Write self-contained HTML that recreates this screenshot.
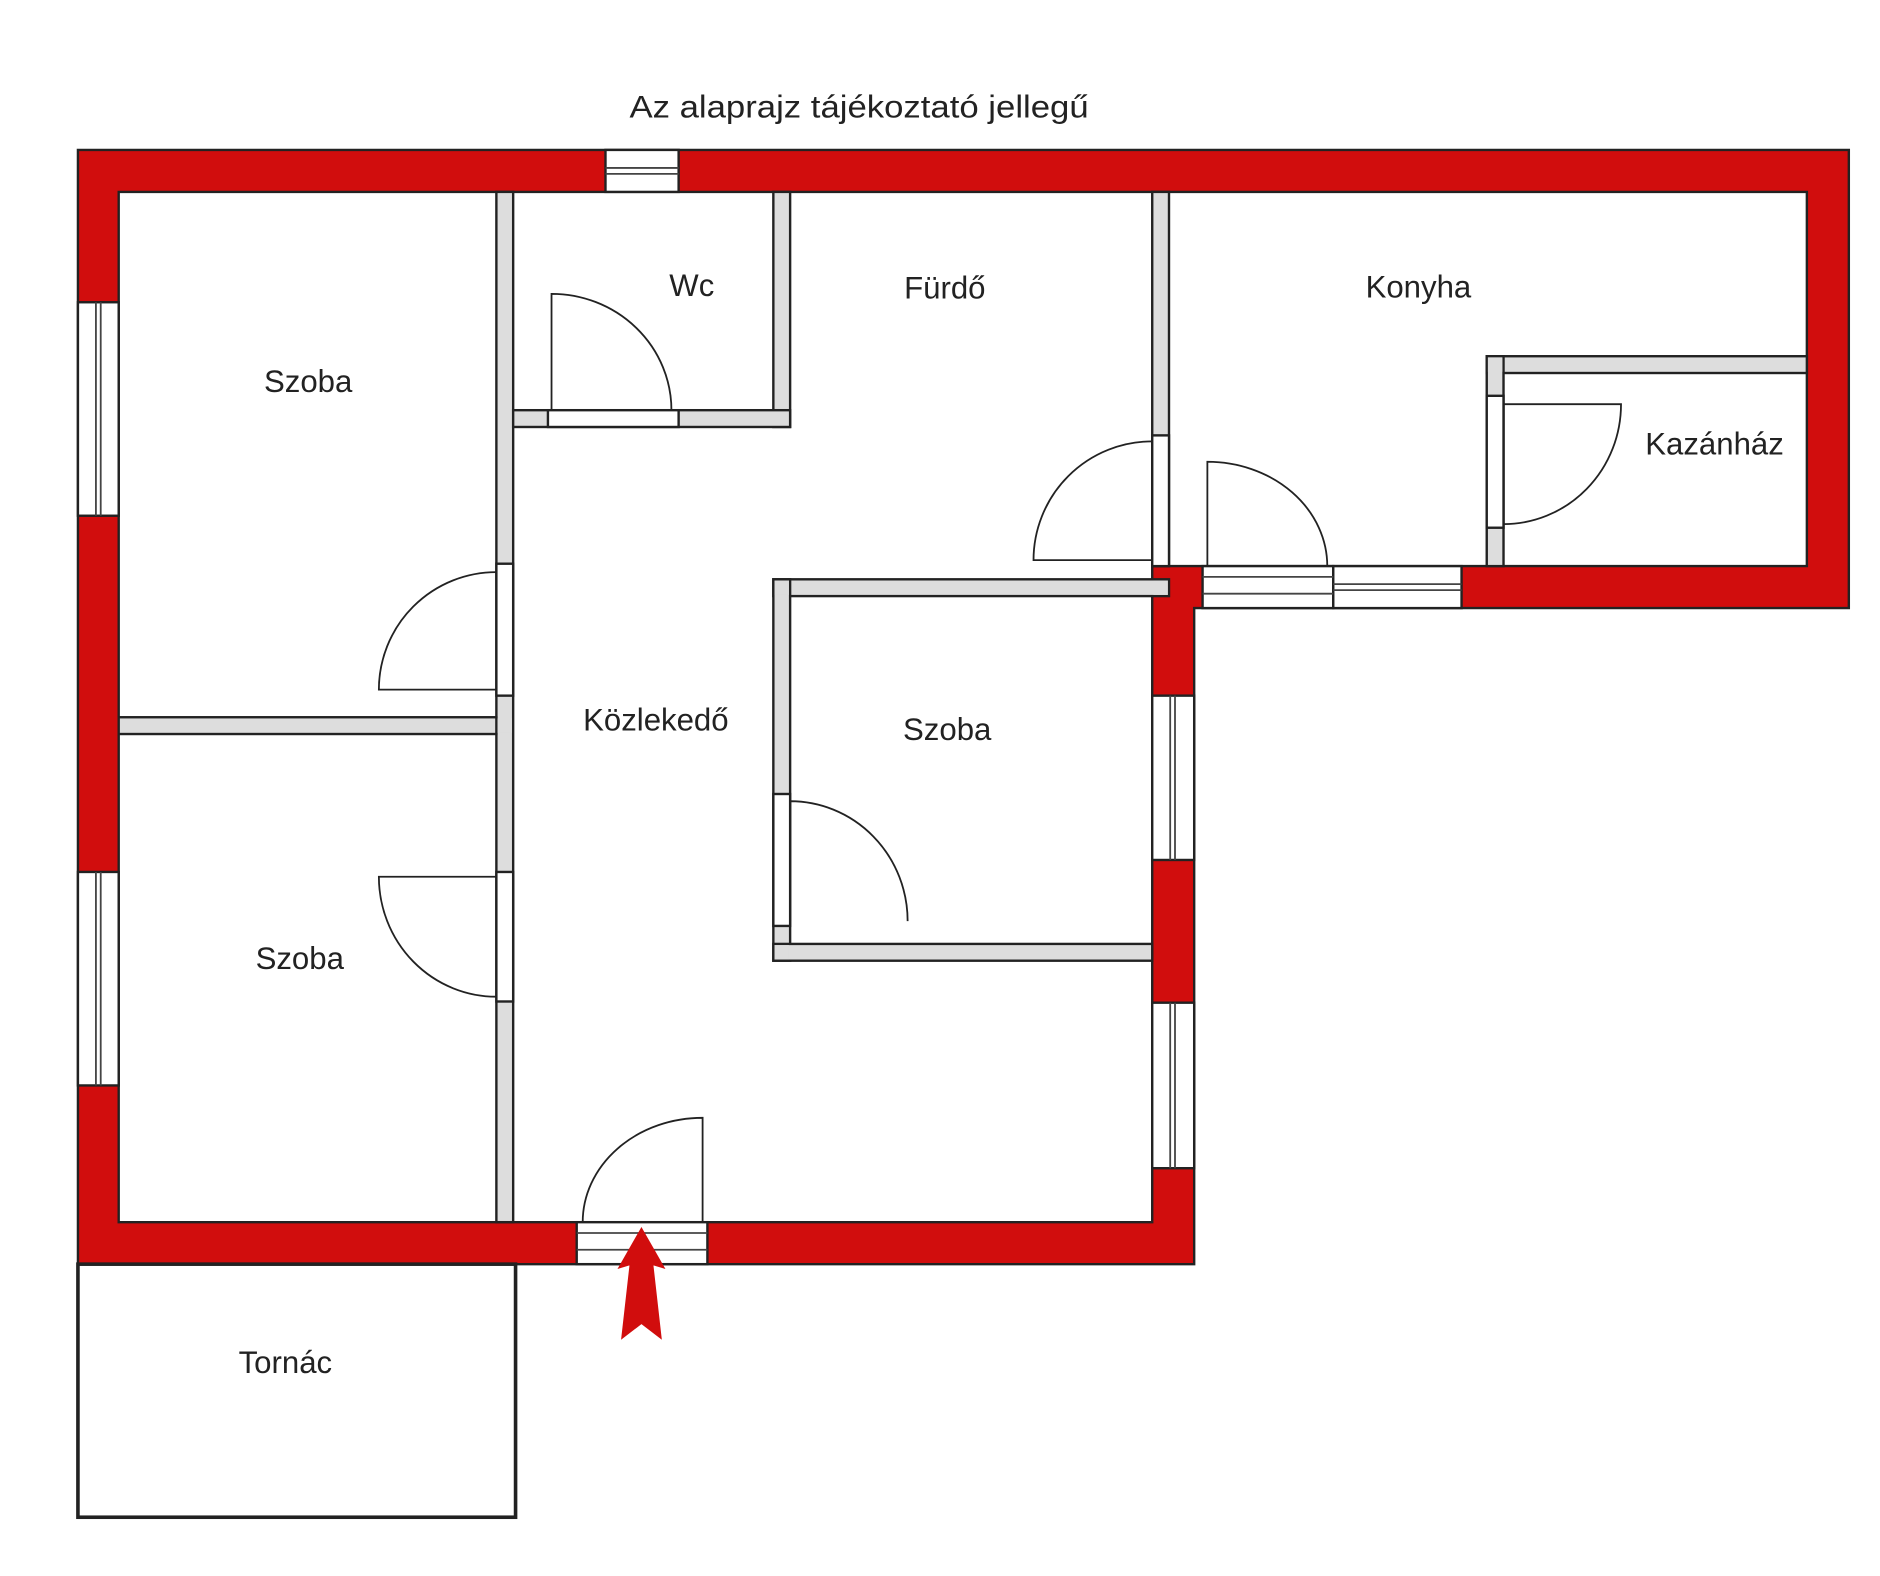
<!DOCTYPE html>
<html><head><meta charset="utf-8"><style>
html,body{margin:0;padding:0;background:#fff;}
svg{display:block;}
text{font-family:"Liberation Sans","DejaVu Sans",sans-serif;font-size:26px;fill:#222;}
</style></head><body>
<svg width="1880" height="1576" viewBox="0 0 1568 1314" preserveAspectRatio="none" xmlns="http://www.w3.org/2000/svg">
<rect width="1568" height="1314" fill="#fff"/>
<g fill="#d10d0d" stroke="#222" stroke-width="2">
<path d="M65,125 H1542 V507 H996 V1054 H65 Z M99,160 V1019 H961 V472 H1507 V160 Z" fill-rule="evenodd"/>
</g>
<g fill="#fff" stroke="#222" stroke-width="2">
<rect x="65" y="252" width="34" height="178"/>
<rect x="65" y="727" width="34" height="178"/>
<rect x="505" y="125" width="61" height="35"/>
<rect x="961" y="580" width="35" height="137"/>
<rect x="961" y="836" width="35" height="138"/>
<rect x="481" y="1019" width="109" height="35"/>
<rect x="1003" y="472" width="109" height="35"/>
<rect x="1112" y="472" width="107" height="35"/>
</g>
<g stroke="#444" stroke-width="1.5" fill="none">
<line x1="80" y1="252" x2="80" y2="430"/><line x1="84" y1="252" x2="84" y2="430"/>
<line x1="80" y1="727" x2="80" y2="905"/><line x1="84" y1="727" x2="84" y2="905"/>
<line x1="976" y1="580" x2="976" y2="717"/><line x1="980" y1="580" x2="980" y2="717"/>
<line x1="976" y1="836" x2="976" y2="974"/><line x1="980" y1="836" x2="980" y2="974"/>
<line x1="505" y1="140" x2="566" y2="140"/><line x1="505" y1="145" x2="566" y2="145"/>
<line x1="1112" y1="487" x2="1219" y2="487"/><line x1="1112" y1="492" x2="1219" y2="492"/>
<line x1="481" y1="1028" x2="590" y2="1028"/><line x1="481" y1="1042" x2="590" y2="1042"/>
<line x1="1003" y1="481" x2="1112" y2="481"/><line x1="1003" y1="495" x2="1112" y2="495"/>
</g>
<g fill="#ddd" stroke="#222" stroke-width="2">
<rect x="414" y="160" width="14" height="859"/>
<rect x="99" y="598" width="315" height="14"/>
<rect x="645" y="160" width="14" height="196"/>
<rect x="428" y="342" width="231" height="14"/>
<rect x="961" y="160" width="14" height="312"/>
<rect x="645" y="483" width="330" height="14"/>
<rect x="645" y="483" width="14" height="318"/>
<rect x="645" y="787" width="316" height="14"/>
<rect x="1240" y="297" width="267" height="14"/>
<rect x="1240" y="297" width="14" height="175"/>
</g>
<g fill="#ddd" stroke="none">
<rect x="415" y="599" width="12" height="12"/>
<rect x="646" y="484" width="12" height="12"/>
<rect x="646" y="788" width="12" height="12"/>
<rect x="962" y="484" width="12" height="12"/>
<rect x="1241" y="298" width="12" height="12"/>
</g>
<g fill="#fff" stroke="#222" stroke-width="2">
<rect x="457" y="342" width="109" height="14"/>
<rect x="414" y="470" width="14" height="110"/>
<rect x="414" y="727" width="14" height="108"/>
<rect x="961" y="363" width="14" height="109"/>
<rect x="1240" y="330" width="14" height="110"/>
<rect x="645" y="662" width="14" height="110"/>
</g>
<g fill="none" stroke="#222" stroke-width="1.5">
<path d="M460,342 V245 A100,97 0 0 1 560,342"/>
<path d="M414,575 H316 A98,98 0 0 1 414,477"/>
<path d="M414,731 H316 A98,100 0 0 0 414,831"/>
<path d="M961,467 H862 A99,99 0 0 1 961,368"/>
<path d="M1007,472 V385 A100,87 0 0 1 1107,472"/>
<path d="M1254,337 H1352 A98,100 0 0 1 1254,437"/>
<path d="M659,768 V668 A98,100 0 0 1 757,768"/>
<path d="M586,1019 V932 A100,87 0 0 0 486,1019"/>
</g>
<rect x="65" y="1054" width="365" height="211" fill="none" stroke="#222" stroke-width="3"/>
<path d="M535,1023 L555,1058 L545,1055 L552,1117 L535,1104 L518,1117 L525,1055 L515,1058 Z" fill="#d10d0d"/>
<text x="525" y="98" textLength="383" lengthAdjust="spacingAndGlyphs">Az alaprajz tájékoztató jellegű</text>
<g text-anchor="middle" dominant-baseline="middle">
<text x="257" y="320">Szoba</text>
<text x="577" y="240">Wc</text>
<text x="788" y="242">Fürdő</text>
<text x="1183" y="241">Konyha</text>
<text x="1430" y="372">Kazánház</text>
<text x="547" y="602">Közlekedő</text>
<text x="790" y="610">Szoba</text>
<text x="250" y="801">Szoba</text>
<text x="238" y="1138">Tornác</text>
</g>
</svg>
</body></html>
